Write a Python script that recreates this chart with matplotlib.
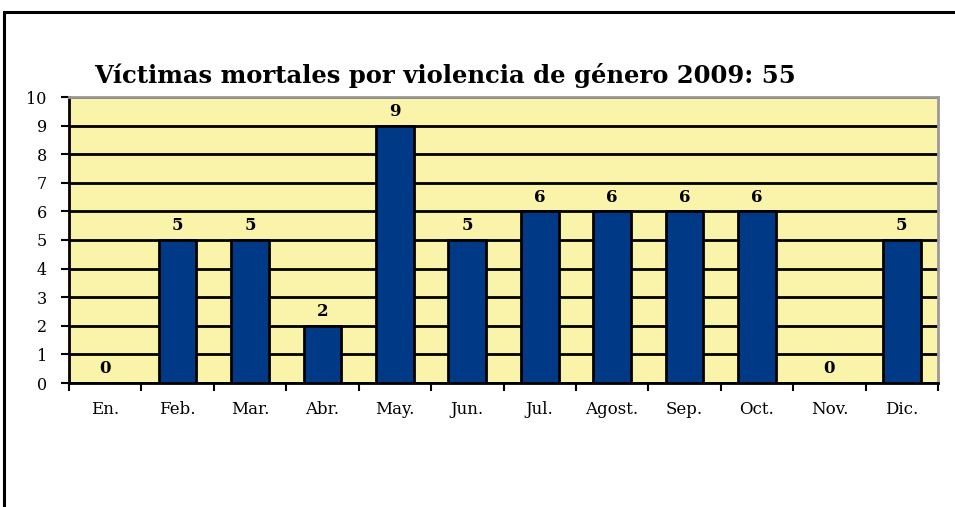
import matplotlib
matplotlib.use("Agg")
import matplotlib.pyplot as plt
from matplotlib.patches import Rectangle

months = ["En.", "Feb.", "Mar.", "Abr.", "May.", "Jun.", "Jul.", "Agost.", "Sep.", "Oct.", "Nov.", "Dic."]
victims = [0, 5, 5, 2, 9, 5, 6, 6, 6, 6, 0, 5]
total = 55

plt.rcParams["font.family"] = ["DejaVu Serif"]

fig = plt.figure(figsize=(9.55, 5.07), dpi=100)
fig.patches.append(Rectangle((4 / 955, -0.1), 960 / 955, 1 - 12 / 507 + 0.1,
                             transform=fig.transFigure, fill=False,
                             edgecolor="black", linewidth=2.2))

ax = fig.add_axes([69 / 955, 1 - 383 / 507, 869 / 955, 286 / 507])
ax.set_facecolor("#faf3aa")

x = range(len(months))
ax.set_ylim(0, 10)
ax.set_xlim(-0.5, len(months) - 0.5)
ax.set_yticks(range(0, 11))
ax.yaxis.grid(True, color="black", linewidth=2)
ax.set_axisbelow(True)

ax.bar(x, victims, width=0.52, color="#003a87", edgecolor="black", linewidth=2, zorder=3)
for i, v in enumerate(victims):
    ax.text(i, v + 0.2, str(v), ha="center", va="bottom", fontsize=12, fontweight="bold")

# month boundaries get the tick marks, month names sit between them
ax.set_xticks([i + 0.5 for i in range(-1, len(months))], minor=False)
ax.set_xticklabels([])
ax.set_xticks(list(x), minor=True)
ax.set_xticklabels(months, minor=True, fontsize=12)
ax.tick_params(axis="x", which="major", direction="out", length=6, width=1.5)
ax.tick_params(axis="x", which="minor", length=0, pad=13)
ax.tick_params(axis="y", direction="out", length=6, width=1.5, labelsize=11.5, pad=10)

for side in ["left", "bottom"]:
    ax.spines[side].set_linewidth(2)
for side in ["top", "right"]:
    ax.spines[side].set_color("#999999")
    ax.spines[side].set_linewidth(2)

fig.text(94 / 955, 1 - 75 / 507, f"Víctimas mortales por violencia de género 2009: {total}",
         fontsize=17.5, fontweight="bold", va="center", ha="left")

fig.savefig("out.png", dpi=100)
